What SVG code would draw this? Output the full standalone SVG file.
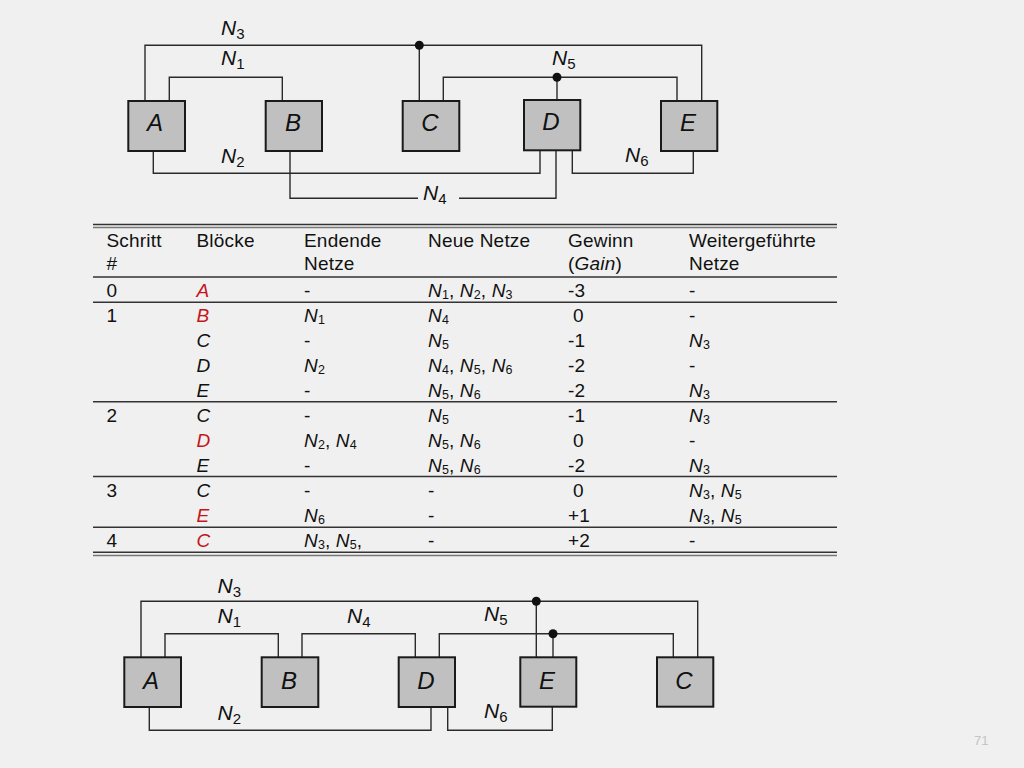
<svg xmlns="http://www.w3.org/2000/svg" width="1024" height="768" viewBox="0 0 1024 768">
<style>
.bg{fill:#f0f0f0}
.box{fill:#c0c0c0;stroke:#1a1a1a;stroke-width:2}
.net{fill:none;stroke:#2a2a2a;stroke-width:1.4}
.dot{fill:#111}
.lbl{font-family:"Liberation Sans",Arial,sans-serif;font-style:italic;font-size:21px;fill:#111}
.sub{font-style:normal;font-size:15px}
.bl{font-family:"Liberation Sans",Arial,sans-serif;font-style:italic;font-size:24px;fill:#111;text-anchor:middle}
.t{font-family:"Liberation Sans",Arial,sans-serif;font-size:19px;letter-spacing:0.2px;fill:#111}
.i{font-style:italic}
.r{fill:#c4161c}
.ts{font-size:12.5px;letter-spacing:0}
.rule{stroke:#333;stroke-width:1.5}
.rule2{stroke:#777;stroke-width:1.5}
.pg{font-family:"Liberation Sans",Arial,sans-serif;font-size:13px;fill:#c4c4c4}
</style>
<rect class="bg" x="0" y="0" width="1024" height="768"/>

<!-- Top diagram connectors -->
<g id="connectors-top">
  <polyline class="net" points="145,101 145,45.3 701.7,45.3 701.7,101"/>
  <line class="net" x1="419.3" y1="45.3" x2="419.3" y2="101"/>
  <polyline class="net" points="169.3,101 169.3,77.3 282.3,77.3 282.3,101"/>
  <polyline class="net" points="443.3,101 443.3,77.3 677,77.3 677,101"/>
  <line class="net" x1="557" y1="77.3" x2="557" y2="100"/>
  <polyline class="net" points="153.3,151 153.3,173.3 540,173.3 540,150.3"/>
  <polyline class="net" points="290,151 290,198.3 418,198.3"/>
  <polyline class="net" points="459,198.3 556,198.3 556,150.3"/>
  <polyline class="net" points="572.3,150.3 572.3,173.3 693.3,173.3 693.3,151"/>
  <circle class="dot" cx="419.3" cy="45.3" r="4.5"/>
  <circle class="dot" cx="557" cy="77.3" r="4.5"/>
</g>
<g id="labels-top">
  <text class="lbl" x="221" y="35">N<tspan class="sub" dy="4">3</tspan></text>
  <text class="lbl" x="221" y="65">N<tspan class="sub" dy="4">1</tspan></text>
  <text class="lbl" x="221" y="163">N<tspan class="sub" dy="4">2</tspan></text>
  <text class="lbl" x="552" y="65">N<tspan class="sub" dy="4">5</tspan></text>
  <text class="lbl" x="625" y="162">N<tspan class="sub" dy="4">6</tspan></text>
  <text class="lbl" x="423" y="200">N<tspan class="sub" dy="4">4</tspan></text>
</g>
<g id="top-A"><rect class="box" x="128.3" y="101" width="56.7" height="50"/><text class="bl" x="155" y="130.5">A</text></g>
<g id="top-B"><rect class="box" x="265.7" y="101" width="56.3" height="50"/><text class="bl" x="293" y="130.5">B</text></g>
<g id="top-C"><rect class="box" x="402.7" y="101" width="56.6" height="50"/><text class="bl" x="430" y="130.5">C</text></g>
<g id="top-D"><rect class="box" x="524" y="100" width="56.3" height="50.3"/><text class="bl" x="551" y="129.5">D</text></g>
<g id="top-E"><rect class="box" x="661" y="101" width="56.3" height="50"/><text class="bl" x="688" y="130.5">E</text></g>

<!-- Table -->
<g id="table">
  <line class="rule" x1="93" y1="224.5" x2="837" y2="224.5"/>
  <line class="rule2" x1="93" y1="227.5" x2="837" y2="227.5"/>
  <line class="rule" x1="93" y1="277" x2="837" y2="277"/>
  <line class="rule" x1="93" y1="302.3" x2="837" y2="302.3"/>
  <line class="rule" x1="93" y1="401.7" x2="837" y2="401.7"/>
  <line class="rule" x1="93" y1="476.5" x2="837" y2="476.5"/>
  <line class="rule" x1="93" y1="527.3" x2="837" y2="527.3"/>
  <line class="rule" x1="93" y1="552.3" x2="837" y2="552.3"/>
  <line class="rule2" x1="93" y1="555.5" x2="837" y2="555.5"/>

  <text class="t" x="106.5" y="247">Schritt</text>
  <text class="t" x="196.5" y="247">Blöcke</text>
  <text class="t" x="304" y="247">Endende</text>
  <text class="t" x="428" y="247">Neue Netze</text>
  <text class="t" x="568" y="247">Gewinn</text>
  <text class="t" x="689" y="247">Weitergeführte</text>
  <text class="t" x="106.5" y="270">#</text>
  <text class="t" x="304" y="270">Netze</text>
  <text class="t" x="568" y="270">(<tspan class="i">Gain</tspan>)</text>
  <text class="t" x="689" y="270">Netze</text>

  <!-- row 0 -->
  <text class="t" x="106.5" y="297">0</text>
  <text class="t i r" x="196.5" y="297">A</text>
  <text class="t" x="304" y="297">-</text>
  <text class="t" x="428" y="297"><tspan class="i">N</tspan><tspan class="ts" dy="1.5">1</tspan><tspan dy="-1.5">, </tspan><tspan class="i">N</tspan><tspan class="ts" dy="1.5">2</tspan><tspan dy="-1.5">, </tspan><tspan class="i">N</tspan><tspan class="ts" dy="1.5">3</tspan></text>
  <text class="t" x="568" y="297">-3</text>
  <text class="t" x="689" y="297">-</text>

  <!-- row 1 -->
  <text class="t" x="106.5" y="322">1</text>
  <text class="t i r" x="196.5" y="322">B</text>
  <text class="t" x="304" y="322"><tspan class="i">N</tspan><tspan class="ts" dy="1.5">1</tspan></text>
  <text class="t" x="428" y="322"><tspan class="i">N</tspan><tspan class="ts" dy="1.5">4</tspan></text>
  <text class="t" x="573" y="322">0</text>
  <text class="t" x="689" y="322">-</text>

  <text class="t i" x="196.5" y="347">C</text>
  <text class="t" x="304" y="347">-</text>
  <text class="t" x="428" y="347"><tspan class="i">N</tspan><tspan class="ts" dy="1.5">5</tspan></text>
  <text class="t" x="568" y="347">-1</text>
  <text class="t" x="689" y="347"><tspan class="i">N</tspan><tspan class="ts" dy="1.5">3</tspan></text>

  <text class="t i" x="196.5" y="372">D</text>
  <text class="t" x="304" y="372"><tspan class="i">N</tspan><tspan class="ts" dy="1.5">2</tspan></text>
  <text class="t" x="428" y="372"><tspan class="i">N</tspan><tspan class="ts" dy="1.5">4</tspan><tspan dy="-1.5">, </tspan><tspan class="i">N</tspan><tspan class="ts" dy="1.5">5</tspan><tspan dy="-1.5">, </tspan><tspan class="i">N</tspan><tspan class="ts" dy="1.5">6</tspan></text>
  <text class="t" x="568" y="372">-2</text>
  <text class="t" x="689" y="372">-</text>

  <text class="t i" x="196.5" y="397">E</text>
  <text class="t" x="304" y="397">-</text>
  <text class="t" x="428" y="397"><tspan class="i">N</tspan><tspan class="ts" dy="1.5">5</tspan><tspan dy="-1.5">, </tspan><tspan class="i">N</tspan><tspan class="ts" dy="1.5">6</tspan></text>
  <text class="t" x="568" y="397">-2</text>
  <text class="t" x="689" y="397"><tspan class="i">N</tspan><tspan class="ts" dy="1.5">3</tspan></text>

  <!-- row 2 -->
  <text class="t" x="106.5" y="422">2</text>
  <text class="t i" x="196.5" y="422">C</text>
  <text class="t" x="304" y="422">-</text>
  <text class="t" x="428" y="422"><tspan class="i">N</tspan><tspan class="ts" dy="1.5">5</tspan></text>
  <text class="t" x="568" y="422">-1</text>
  <text class="t" x="689" y="422"><tspan class="i">N</tspan><tspan class="ts" dy="1.5">3</tspan></text>

  <text class="t i r" x="196.5" y="447">D</text>
  <text class="t" x="304" y="447"><tspan class="i">N</tspan><tspan class="ts" dy="1.5">2</tspan><tspan dy="-1.5">, </tspan><tspan class="i">N</tspan><tspan class="ts" dy="1.5">4</tspan></text>
  <text class="t" x="428" y="447"><tspan class="i">N</tspan><tspan class="ts" dy="1.5">5</tspan><tspan dy="-1.5">, </tspan><tspan class="i">N</tspan><tspan class="ts" dy="1.5">6</tspan></text>
  <text class="t" x="573" y="447">0</text>
  <text class="t" x="689" y="447">-</text>

  <text class="t i" x="196.5" y="472">E</text>
  <text class="t" x="304" y="472">-</text>
  <text class="t" x="428" y="472"><tspan class="i">N</tspan><tspan class="ts" dy="1.5">5</tspan><tspan dy="-1.5">, </tspan><tspan class="i">N</tspan><tspan class="ts" dy="1.5">6</tspan></text>
  <text class="t" x="568" y="472">-2</text>
  <text class="t" x="689" y="472"><tspan class="i">N</tspan><tspan class="ts" dy="1.5">3</tspan></text>

  <!-- row 3 -->
  <text class="t" x="106.5" y="497">3</text>
  <text class="t i" x="196.5" y="497">C</text>
  <text class="t" x="304" y="497">-</text>
  <text class="t" x="428" y="497">-</text>
  <text class="t" x="573" y="497">0</text>
  <text class="t" x="689" y="497"><tspan class="i">N</tspan><tspan class="ts" dy="1.5">3</tspan><tspan dy="-1.5">, </tspan><tspan class="i">N</tspan><tspan class="ts" dy="1.5">5</tspan></text>

  <text class="t i r" x="196.5" y="522">E</text>
  <text class="t" x="304" y="522"><tspan class="i">N</tspan><tspan class="ts" dy="1.5">6</tspan></text>
  <text class="t" x="428" y="522">-</text>
  <text class="t" x="568" y="522">+1</text>
  <text class="t" x="689" y="522"><tspan class="i">N</tspan><tspan class="ts" dy="1.5">3</tspan><tspan dy="-1.5">, </tspan><tspan class="i">N</tspan><tspan class="ts" dy="1.5">5</tspan></text>

  <!-- row 4 -->
  <text class="t" x="106.5" y="547">4</text>
  <text class="t i r" x="196.5" y="547">C</text>
  <text class="t" x="304" y="547"><tspan class="i">N</tspan><tspan class="ts" dy="1.5">3</tspan><tspan dy="-1.5">, </tspan><tspan class="i">N</tspan><tspan class="ts" dy="1.5">5</tspan><tspan dy="-1.5">,</tspan></text>
  <text class="t" x="428" y="547">-</text>
  <text class="t" x="568" y="547">+2</text>
  <text class="t" x="689" y="547">-</text>
</g>

<!-- Bottom diagram connectors -->
<g id="connectors-bottom">
  <polyline class="net" points="141,657.3 141,601.3 697.7,601.3 697.7,657.3"/>
  <line class="net" x1="536.3" y1="601.3" x2="536.3" y2="657.3"/>
  <polyline class="net" points="165,657.3 165,633.7 278.3,633.7 278.3,657.3"/>
  <polyline class="net" points="302,657.3 302,633.7 415.3,633.7 415.3,657.3"/>
  <polyline class="net" points="439.3,657.3 439.3,633.7 673.3,633.7 673.3,657.3"/>
  <line class="net" x1="553" y1="633.7" x2="553" y2="657.3"/>
  <polyline class="net" points="149.3,707 149.3,730.3 431,730.3 431,707"/>
  <polyline class="net" points="447.7,707 447.7,730.3 552.3,730.3 552.3,707"/>
  <circle class="dot" cx="536.3" cy="601.3" r="4.5"/>
  <circle class="dot" cx="553" cy="633.7" r="4.5"/>
</g>
<g id="labels-bottom">
  <text class="lbl" x="217.5" y="593">N<tspan class="sub" dy="4">3</tspan></text>
  <text class="lbl" x="217.5" y="623">N<tspan class="sub" dy="4">1</tspan></text>
  <text class="lbl" x="347" y="623">N<tspan class="sub" dy="4">4</tspan></text>
  <text class="lbl" x="484" y="621">N<tspan class="sub" dy="4">5</tspan></text>
  <text class="lbl" x="217.5" y="720">N<tspan class="sub" dy="4">2</tspan></text>
  <text class="lbl" x="484" y="718">N<tspan class="sub" dy="4">6</tspan></text>
</g>
<g id="bot-A"><rect class="box" x="124.3" y="657.3" width="56.7" height="49.7"/><text class="bl" x="151" y="688.5">A</text></g>
<g id="bot-B"><rect class="box" x="261.7" y="657.3" width="56.6" height="49.7"/><text class="bl" x="289" y="688.5">B</text></g>
<g id="bot-D"><rect class="box" x="398.7" y="657.3" width="56.3" height="49.7"/><text class="bl" x="426" y="688.5">D</text></g>
<g id="bot-E"><rect class="box" x="520.3" y="657.3" width="56" height="49.4"/><text class="bl" x="547" y="688.5">E</text></g>
<g id="bot-C"><rect class="box" x="657" y="657.3" width="56.3" height="49.4"/><text class="bl" x="684" y="688.5">C</text></g>

<text class="pg" x="974" y="745">71</text>
</svg>
